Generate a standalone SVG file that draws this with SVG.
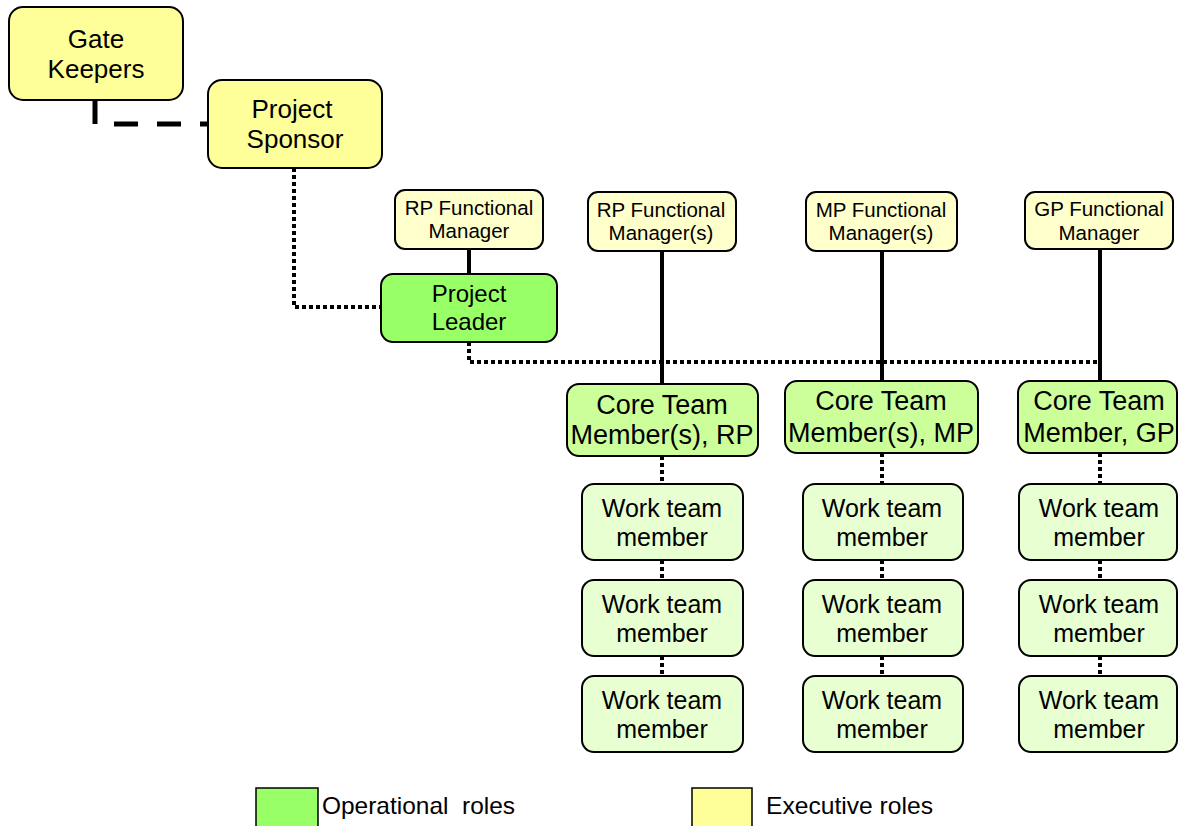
<svg xmlns="http://www.w3.org/2000/svg" width="1179" height="826" viewBox="0 0 1179 826">
<style>
.box{stroke:#000;stroke-width:2}
.exec{fill:#FFFF99}
.fm{fill:#FFFFCC}
.op{fill:#99FF66}
.core{fill:#CCFF99}
.work{fill:#E8FFD2}
text{font-family:"Liberation Sans",Arial,sans-serif;fill:#000;text-anchor:middle}
.t26{font-size:26px}
.t27{font-size:27px}
.t24{font-size:24px}
.t25{font-size:25px}
.t19{font-size:20.5px}
.solid{stroke:#000;stroke-width:4;fill:none}
.dot{stroke:#000;stroke-width:4;fill:none;stroke-dasharray:4 3}
.dash{stroke:#000;stroke-width:5;fill:none;stroke-dasharray:24 19}
</style>
<rect width="1179" height="826" fill="#fff"/>
<g id="connectors">
  <path class="dash" d="M95,100 V124 H208"/>
  <path class="dot" d="M294,168 V307 H381"/>
  <path class="solid" d="M469,249 V274"/>
  <path class="dot" d="M469,342 V362 H1100"/>
  <path class="solid" d="M662,251 V384"/>
  <path class="solid" d="M882,251 V381"/>
  <path class="solid" d="M1100,249 V381"/>
  <path class="dot" d="M662,456 V484"/>
  <path class="dot" d="M662,560 V580"/>
  <path class="dot" d="M662,656 V676"/>
  <path class="dot" d="M882,453 V484"/>
  <path class="dot" d="M882,560 V580"/>
  <path class="dot" d="M882,656 V676"/>
  <path class="dot" d="M1100,453 V484"/>
  <path class="dot" d="M1100,560 V580"/>
  <path class="dot" d="M1100,656 V676"/>
</g>
<g id="gate-keepers">
  <rect class="box exec" x="9" y="7" width="174" height="93" rx="14"/>
  <text class="t26" x="96" y="48">Gate</text>
  <text class="t26" x="96" y="78">Keepers</text>
</g>
<g id="project-sponsor">
  <rect class="box exec" x="208" y="80" width="174" height="88" rx="14"/>
  <text class="t26" x="292" y="118">Project</text>
  <text class="t26" x="295" y="148">Sponsor</text>
</g>
<g id="rp-fm-leader">
  <rect class="box fm" x="395" y="190" width="148" height="59" rx="10"/>
  <text class="t19" x="469" y="215">RP Functional</text>
  <text class="t19" x="469" y="238">Manager</text>
</g>
<g id="project-leader">
  <rect class="box op" x="381" y="274" width="176" height="68" rx="12"/>
  <text class="t24" x="469" y="302">Project</text>
  <text class="t24" x="469" y="330">Leader</text>
</g>
<g id="rp-fm">
  <rect class="box fm" x="588" y="192" width="148" height="59" rx="10"/>
  <text class="t19" x="661" y="217">RP Functional</text>
  <text class="t19" x="661" y="240">Manager(s)</text>
</g>
<g id="mp-fm">
  <rect class="box fm" x="806" y="192" width="151" height="59" rx="10"/>
  <text class="t19" x="881" y="217">MP Functional</text>
  <text class="t19" x="881" y="240">Manager(s)</text>
</g>
<g id="gp-fm">
  <rect class="box fm" x="1025" y="192" width="148" height="57" rx="10"/>
  <text class="t19" x="1099" y="216">GP Functional</text>
  <text class="t19" x="1099" y="240">Manager</text>
</g>
<g id="core-rp">
  <rect class="box core" x="567" y="384" width="191" height="72" rx="12"/>
  <text class="t27" x="662" y="414">Core Team</text>
  <text class="t27" x="662" y="444">Member(s), RP</text>
</g>
<g id="core-mp">
  <rect class="box core" x="785" y="381" width="193" height="72" rx="12"/>
  <text class="t27" x="881" y="410">Core Team</text>
  <text class="t27" x="881" y="442">Member(s), MP</text>
</g>
<g id="core-gp">
  <rect class="box core" x="1018" y="381" width="159" height="72" rx="12"/>
  <text class="t27" x="1099" y="410">Core Team</text>
  <text class="t27" x="1099" y="442">Member, GP</text>
</g>
<g id="work-rp-1"><rect class="box work" x="582" y="484" width="161" height="76" rx="12"/><text class="t25" x="662" y="517">Work team</text><text class="t25" x="662" y="546">member</text></g>
<g id="work-rp-2"><rect class="box work" x="582" y="580" width="161" height="76" rx="12"/><text class="t25" x="662" y="613">Work team</text><text class="t25" x="662" y="642">member</text></g>
<g id="work-rp-3"><rect class="box work" x="582" y="676" width="161" height="76" rx="12"/><text class="t25" x="662" y="709">Work team</text><text class="t25" x="662" y="738">member</text></g>
<g id="work-mp-1"><rect class="box work" x="803" y="484" width="160" height="76" rx="12"/><text class="t25" x="882" y="517">Work team</text><text class="t25" x="882" y="546">member</text></g>
<g id="work-mp-2"><rect class="box work" x="803" y="580" width="160" height="76" rx="12"/><text class="t25" x="882" y="613">Work team</text><text class="t25" x="882" y="642">member</text></g>
<g id="work-mp-3"><rect class="box work" x="803" y="676" width="160" height="76" rx="12"/><text class="t25" x="882" y="709">Work team</text><text class="t25" x="882" y="738">member</text></g>
<g id="work-gp-1"><rect class="box work" x="1019" y="484" width="158" height="76" rx="12"/><text class="t25" x="1099" y="517">Work team</text><text class="t25" x="1099" y="546">member</text></g>
<g id="work-gp-2"><rect class="box work" x="1019" y="580" width="158" height="76" rx="12"/><text class="t25" x="1099" y="613">Work team</text><text class="t25" x="1099" y="642">member</text></g>
<g id="work-gp-3"><rect class="box work" x="1019" y="676" width="158" height="76" rx="12"/><text class="t25" x="1099" y="709">Work team</text><text class="t25" x="1099" y="738">member</text></g>
<g id="legend">
  <rect x="256" y="788" width="62" height="42" fill="#99FF66" stroke="#000" stroke-width="1.5"/>
  <text x="322" y="814" style="font-size:24px;text-anchor:start" textLength="193" lengthAdjust="spacingAndGlyphs" xml:space="preserve">Operational  roles</text>
  <rect x="692" y="788" width="60" height="42" fill="#FFFF99" stroke="#000" stroke-width="1.5"/>
  <text x="766" y="814" style="font-size:24px;text-anchor:start" textLength="167" lengthAdjust="spacingAndGlyphs">Executive roles</text>
</g>
</svg>
